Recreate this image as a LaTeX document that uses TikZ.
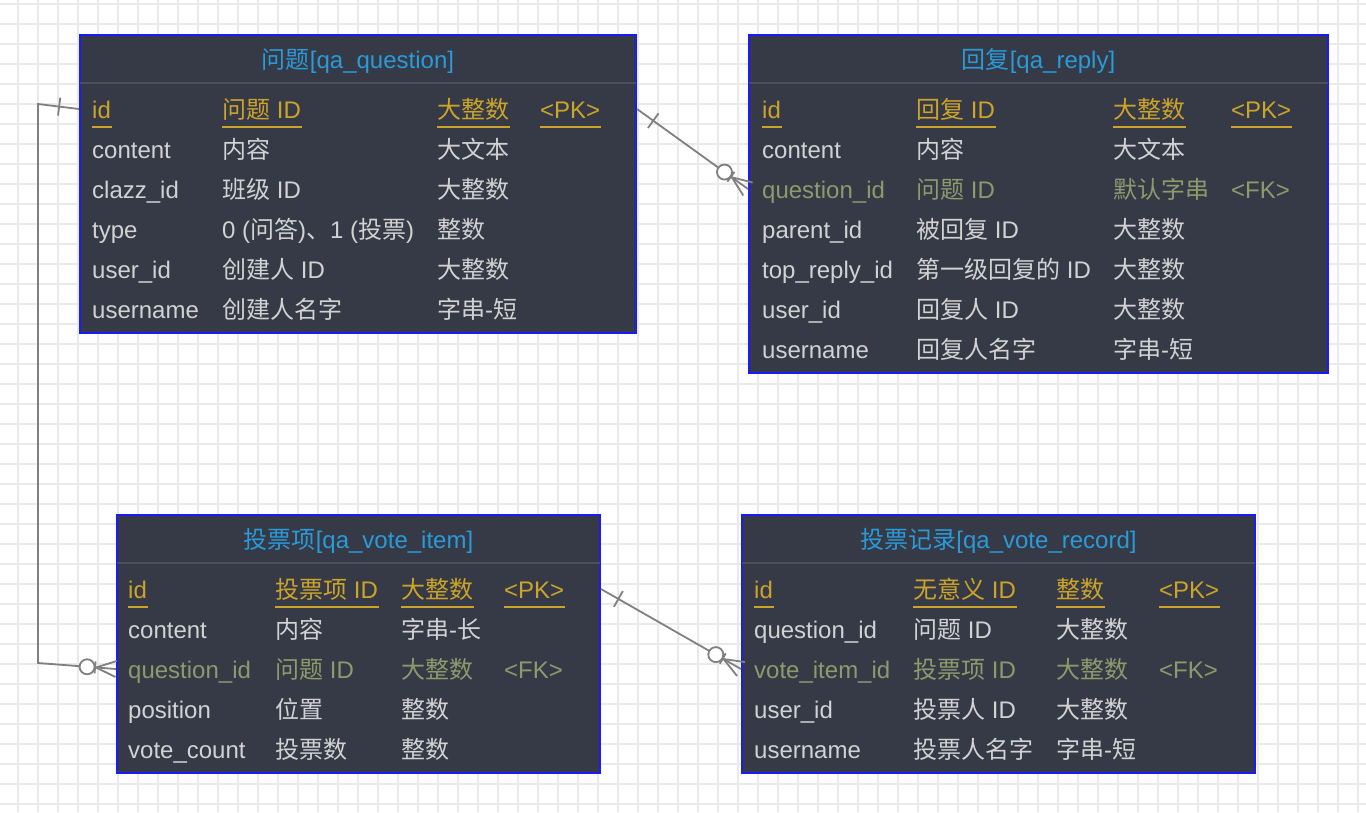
\documentclass[tikz,border=0pt]{standalone}
\usepackage{fontspec}
\setmainfont{Liberation Sans}
\newfontfamily\cjk{Noto Sans CJK SC}
\usepackage{tikz}
\usetikzlibrary{calc}

\definecolor{tablefill}{HTML}{353A46}
\definecolor{tableedge}{HTML}{1A1AFF}
\definecolor{titleblue}{HTML}{2A9AD8}
\definecolor{pkgold}{HTML}{CCA42A}
\definecolor{fkolive}{HTML}{8E9A6C}
\definecolor{celltext}{HTML}{D2D2D2}
\definecolor{divline}{HTML}{4A4F5A}
\definecolor{gridgray}{HTML}{EAEAEA}
\definecolor{erline}{HTML}{808080}

\newcommand{\zh}[1]{{\cjk #1}}
\newcommand{\onemark}[2]{%
  \path ($(#1)!20pt!(#2)$) coordinate (tmptick);
  \draw[relation] ($(tmptick)!9pt!90:(#2)$) -- ($(tmptick)!9pt!-90:(#2)$);
}
\newcommand{\manymark}[2]{%
  \path ($(#1)!21pt!(#2)$) coordinate (tmpbar) ($(#1)!29pt!(#2)$) coordinate (tmpring);
  \draw[relation] ($(#1)!8pt!90:(#2)$) -- ($(#1)!20pt!(#2)$) -- ($(#1)!8pt!-90:(#2)$);
  \draw[relation] ($(tmpbar)!6pt!90:(#2)$) -- ($(tmpbar)!6pt!-90:(#2)$);
  \draw[relation, fill=white] (tmpring) circle[radius=7.5pt];
}

\begin{document}
\begin{tikzpicture}[x=1pt, y=-1pt,
    erbox/.style = {draw=tableedge, line width=2pt, fill=tablefill, inner sep=0pt},
    tabletitle/.style = {anchor=base, inner sep=0pt, text=titleblue, font=\fontsize{24}{28}\selectfont},
    cell/.style = {anchor=base west, inner sep=0pt, text height=18pt, text depth=0pt, text=celltext, font=\fontsize{24}{28}\selectfont},
    pkcell/.style = {cell, text=pkgold, append after command={([yshift=-9pt]\tikzlastnode.base west) edge[draw=pkgold, line width=2pt] ([xshift=1pt, yshift=-9pt]\tikzlastnode.base east)}},
    fkcell/.style = {cell, text=fkolive},
    divider/.style = {divline, line width=2pt},
    relation/.style = {erline, line width=1.8pt},
    gridline/.style = {gridgray, line width=2pt}]

    \useasboundingbox (0,0) rectangle (1366,812);
    \fill[white] (0,0) rectangle (1366,812);
    \foreach \gx in {18,38,...,1358} \draw[gridline] (\gx,0) -- (\gx,812);
    \foreach \gy in {4,24,...,804} \draw[gridline] (0,\gy) -- (1366,\gy);

    \node[erbox, minimum width=556pt, minimum height=298pt] (q)  at (358,184)    {};
    \node[erbox, minimum width=579pt, minimum height=338pt] (r)  at (1038.5,204) {};
    \node[erbox, minimum width=483pt, minimum height=258pt] (vi) at (358.5,644)  {};
    \node[erbox, minimum width=513pt, minimum height=258pt] (vr) at (998.5,644)  {};

    \foreach \t in {q,r,vi,vr}
        \draw[divider] ([xshift=1pt, yshift=-49pt]\t.north west) -- ([xshift=-1pt, yshift=-49pt]\t.north east);

    \node[tabletitle] (q-title)  at ([yshift=-34.5pt]q.north)  {\zh{问题}[qa\_question]};
    \node[tabletitle] (r-title)  at ([yshift=-34.5pt]r.north)  {\zh{回复}[qa\_reply]};
    \node[tabletitle] (vi-title) at ([yshift=-34.5pt]vi.north) {\zh{投票项}[qa\_vote\_item]};
    \node[tabletitle] (vr-title) at ([yshift=-34.5pt]vr.north) {\zh{投票记录}[qa\_vote\_record]};

    \foreach \sty/\ca/\cb/\cc [count=\i] in {
        pkcell/id/\zh{问题} ID/\zh{大整数},
        cell/content/\zh{内容}/\zh{大文本},
        cell/clazz\_id/\zh{班级} ID/\zh{大整数},
        cell/type/{0 (\zh{问答})\zh{、}1 (\zh{投票})}/\zh{整数},
        cell/user\_id/\zh{创建人} ID/\zh{大整数},
        cell/username/\zh{创建人名字}/\zh{字串}-\zh{短}}{
        \node[\sty] (q-\i-a) at (92,{78+40*\i})  {\ca};
        \node[\sty] (q-\i-b) at (222,{78+40*\i}) {\cb};
        \node[\sty] (q-\i-c) at (437,{78+40*\i}) {\cc};
    }
    \node[pkcell] (q-1-d) at (540,118) {<PK>};

    \foreach \sty/\ca/\cb/\cc [count=\i] in {
        pkcell/id/\zh{回复} ID/\zh{大整数},
        cell/content/\zh{内容}/\zh{大文本},
        fkcell/question\_id/\zh{问题} ID/\zh{默认字串},
        cell/parent\_id/\zh{被回复} ID/\zh{大整数},
        cell/top\_reply\_id/\zh{第一级回复的} ID/\zh{大整数},
        cell/user\_id/\zh{回复人} ID/\zh{大整数},
        cell/username/\zh{回复人名字}/\zh{字串}-\zh{短}}{
        \node[\sty] (r-\i-a) at (762,{78+40*\i})  {\ca};
        \node[\sty] (r-\i-b) at (916,{78+40*\i})  {\cb};
        \node[\sty] (r-\i-c) at (1113,{78+40*\i}) {\cc};
    }
    \node[pkcell] (r-1-d) at (1231,118) {<PK>};
    \node[fkcell] (r-3-d) at (1231,198) {<FK>};

    \foreach \sty/\ca/\cb/\cc [count=\i] in {
        pkcell/id/\zh{投票项} ID/\zh{大整数},
        cell/content/\zh{内容}/\zh{字串}-\zh{长},
        fkcell/question\_id/\zh{问题} ID/\zh{大整数},
        cell/position/\zh{位置}/\zh{整数},
        cell/vote\_count/\zh{投票数}/\zh{整数}}{
        \node[\sty] (vi-\i-a) at (128,{558+40*\i}) {\ca};
        \node[\sty] (vi-\i-b) at (275,{558+40*\i}) {\cb};
        \node[\sty] (vi-\i-c) at (401,{558+40*\i}) {\cc};
    }
    \node[pkcell] (vi-1-d) at (504,598) {<PK>};
    \node[fkcell] (vi-3-d) at (504,678) {<FK>};

    \foreach \sty/\ca/\cb/\cc [count=\i] in {
        pkcell/id/\zh{无意义} ID/\zh{整数},
        cell/question\_id/\zh{问题} ID/\zh{大整数},
        fkcell/vote\_item\_id/\zh{投票项} ID/\zh{大整数},
        cell/user\_id/\zh{投票人} ID/\zh{大整数},
        cell/username/\zh{投票人名字}/\zh{字串}-\zh{短}}{
        \node[\sty] (vr-\i-a) at (754,{558+40*\i})  {\ca};
        \node[\sty] (vr-\i-b) at (913,{558+40*\i})  {\cb};
        \node[\sty] (vr-\i-c) at (1056,{558+40*\i}) {\cc};
    }
    \node[pkcell] (vr-1-d) at (1159,598) {<PK>};
    \node[fkcell] (vr-3-d) at (1159,678) {<FK>};

    \coordinate (qv-from)  at (q.west |- q-1-a);
    \coordinate (qv-bend1) at (38,104);
    \coordinate (qv-bend2) at (38,663);
    \coordinate (qv-to)    at (vi.west |- vi-3-a);
    \draw[relation] (qv-from) -- (qv-bend1) -- (qv-bend2) -- (qv-to);
    \onemark{qv-from}{qv-bend1}
    \manymark{qv-to}{qv-bend2}

    \coordinate (qr-from) at (q.east |- q-1-a);
    \coordinate (qr-to)   at (r.west |- r-3-a);
    \draw[relation] (qr-from) -- (qr-to);
    \onemark{qr-from}{qr-to}
    \manymark{qr-to}{qr-from}

    \coordinate (vv-from) at (vi.east |- vi-1-a);
    \coordinate (vv-to)   at (vr.west |- vr-3-a);
    \draw[relation] (vv-from) -- (vv-to);
    \onemark{vv-from}{vv-to}
    \manymark{vv-to}{vv-from}
\end{tikzpicture}
\end{document}
